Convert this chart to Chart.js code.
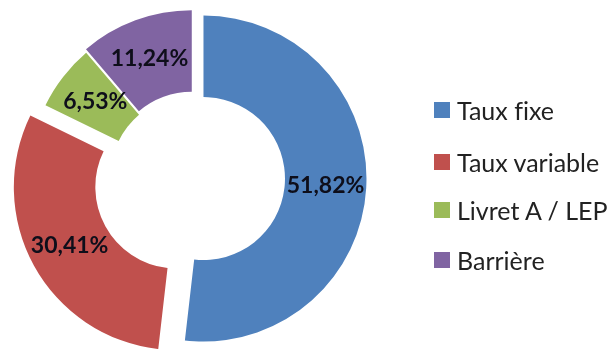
<!DOCTYPE html>
<html>
<head>
<meta charset="utf-8">
<script src="https://cdn.jsdelivr.net/npm/chart.js@4.4.0/dist/chart.umd.min.js"></script>
<style>
  html, body { margin: 0; padding: 0; background: #fff; }
  #wrap { position: relative; width: 612px; height: 349px; }
  #legend { position: absolute; left: 434px; top: 0; font-family: Lato, "Noto Sans", sans-serif; font-size: 25px; color: #222; font-variant-ligatures: none; }
  .item { position: absolute; left: 0; white-space: nowrap; height: 30px; line-height: 30px; }
  .box { position: absolute; left: 0; top: 7px; width: 16px; height: 16px; }
  .txt { position: absolute; left: 23px; top: 0; }
</style>
</head>
<body>
<div id="wrap">
  <canvas id="pie" width="612" height="349"></canvas>
  <div id="legend"></div>
</div>
<script>
const labels = ['Taux fixe', 'Taux variable', 'Livret A / LEP', 'Barrière'];
const values = [51.82, 30.41, 6.53, 11.24];
const colors = ['#4F81BD', '#C0504D', '#9BBB59', '#8064A2'];
// how far each slice is pulled out of the ring (px)
const explode = [10, 19, 2, 5];

function fmt(v) {
  return v.toFixed(2).replace('.', ',') + '%';
}

// pull slices out like the excel "explosion"
const explodePlugin = {
  id: 'explode',
  afterDatasetUpdate(chart, args) {
    const meta = chart.getDatasetMeta(args.index);
    meta.data.forEach((arc, i) => {
      const d = explode[i] || 0;
      const mid = (arc.startAngle + arc.endAngle) / 2;
      arc.x += Math.cos(mid) * d;
      arc.y += Math.sin(mid) * d;
    });
  }
};

// percent labels in the middle of each slice
const labelPlugin = {
  id: 'sliceLabels',
  afterDatasetsDraw(chart) {
    const ctx = chart.ctx;
    const meta = chart.getDatasetMeta(0);
    ctx.save();
    ctx.font = 'bold 23px Lato, "Noto Sans", sans-serif';
    ctx.fillStyle = '#0e0e1a';
    ctx.textAlign = 'center';
    ctx.textBaseline = 'middle';
    meta.data.forEach((arc, i) => {
      const mid = (arc.startAngle + arc.endAngle) / 2;
      const r = (arc.innerRadius + arc.outerRadius) / 2;
      ctx.fillText(fmt(values[i]), arc.x + Math.cos(mid) * r, arc.y + Math.sin(mid) * r);
    });
    ctx.restore();
  }
};

const ctx = document.getElementById('pie').getContext('2d');
new Chart(ctx, {
  type: 'doughnut',
  data: {
    labels: labels,
    datasets: [{
      data: values,
      backgroundColor: colors,
      borderWidth: 0
    }]
  },
  options: {
    responsive: false,
    animation: false,
    radius: 163,
    cutout: '50%',
    layout: {
      padding: { left: 0, right: 225, top: 7, bottom: 0 }
    },
    plugins: {
      legend: { display: false },
      tooltip: { enabled: false }
    }
  },
  plugins: [explodePlugin, labelPlugin]
});

// legend on the right
const legendTops = [95, 147, 195, 245];
const legend = document.getElementById('legend');
labels.forEach((name, i) => {
  const item = document.createElement('div');
  item.className = 'item';
  item.style.top = legendTops[i] + 'px';
  item.innerHTML = '<span class="box" style="background:' + colors[i] + '"></span><span class="txt">' + name + '</span>';
  legend.appendChild(item);
});
</script>
</body>
</html>
